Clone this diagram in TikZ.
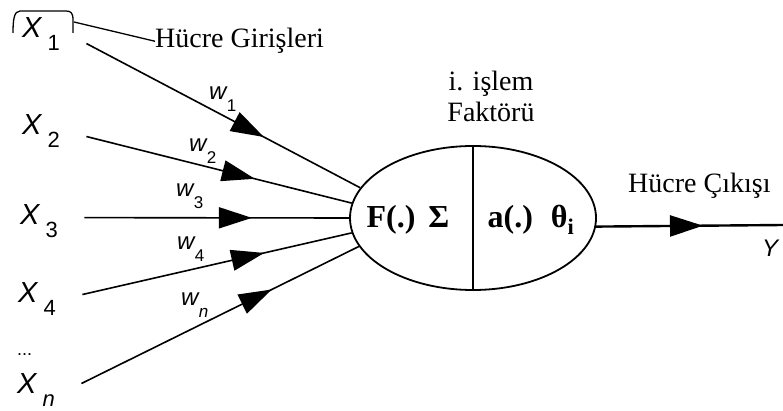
\documentclass[tikz,border=0pt]{standalone}
\usepackage{fontspec}
\setmainfont{Liberation Serif}
\setsansfont{Liberation Sans}
\usepackage{tikz}
\usetikzlibrary{positioning,arrows.meta,decorations.markings,shapes.geometric}

\newcommand{\xsub}[1]{{\fontsize{29}{29}\selectfont\itshape X}\hspace{6pt}\raisebox{-13pt}{#1}}
\newcommand{\wsub}[1]{\textit{w}\kern-1pt\raisebox{-12pt}{\fontsize{17}{17}\selectfont #1}}

\begin{document}
\begin{tikzpicture}[
  x=1pt, y=-1pt,
  inp/.style={anchor=base west, inner sep=0pt, text width=64pt, align=left,
              font=\sffamily\fontsize{22}{22}\selectfont},
  wlab/.style={anchor=base west, inner sep=0pt, font=\sffamily\fontsize{24}{24}\selectfont},
  txt/.style={inner sep=0pt, font=\fontsize{28}{31}\selectfont},
  inside/.style={anchor=base, inner sep=0pt, font=\bfseries\fontsize{32}{32}\selectfont},
  flow/.style={line width=1.6pt, postaction={decorate},
               decoration={markings, mark=at position #1 with
                 {\arrow{Triangle[length=33pt,width=21pt]}}}}
]
  \useasboundingbox (0,0) rectangle (783,411);

  % Nodes
  \node[inp] (x1) at (22,38) {\xsub{1}};
  \node[inp] (x2) at (22,135) {\xsub{2}};
  \node[inp] (x3) at (20,225) {\xsub{3}};
  \node[inp] (x4) at (18,302) {\xsub{4}};
  \node[wlab, font=\sffamily\fontsize{18}{18}\selectfont] (dots) at (17,355) {...};
  \node[inp] (xn) at (17,393) {\xsub{\textit{n}}};

  \node[wlab] (w1) at (209,100) {\wsub{1}};
  \node[wlab] (w2) at (189,152) {\wsub{2}};
  \node[wlab] (w3) at (176,197) {\wsub{3}};
  \node[wlab] (w4) at (177,250) {\wsub{4}};
  \node[wlab] (wn) at (181,305) {\wsub{\textit{n}}};

  \node[txt, anchor=base west] (hgir) at (155,48) {Hücre Girişleri};
  \node[txt, anchor=south, align=center] (fakt) at (491,122) {i. işlem\\Faktörü};
  \node[txt, anchor=base west] (hcik) at (628,193) {Hücre Çıkışı};
  \node[wlab] (yout) at (762,257) {\textit{Y}};

  \node[draw, ellipse, line width=1.8pt, minimum width=246pt, minimum height=144pt,
        inner sep=0pt] (cell) at (473,218) {};
  \draw[line width=1.8pt] (cell.north) -- (cell.south);
  \node[inside] (fsum) at (408,228) {F(.)\hspace{13pt}Σ};
  \node[inside] (aact) at (531,228) {a(.)\hspace{18pt}θ\textsubscript{i}};

  % Bracket
  \draw[line width=1.3pt] (13,33) .. controls (13,20) and (14,11) .. (20,11) -- (66,11)
    .. controls (71,11) and (73,13) .. (73,20) -- (73,33);
  \coordinate (brk) at (74,22);
  \coordinate (yend) at (783,225);

  % Arrows
  \draw[line width=1.3pt] (brk) -- (hgir.west);
  \draw[flow=0.648] ([yshift=-9pt]x1.east) -- (cell.165.5);
  \draw[flow=0.635] ([yshift=-5pt]x2.east) -- (cell.173.4);
  \draw[flow=0.633] ([yshift=4pt]x3.east) -- (cell.180);
  \draw[flow=0.675] ([yshift=4pt]x4.east) -- (cell.187.1);
  \draw[flow=0.686] ([yshift=6pt]xn.east) -- (cell.194.4);
  \draw[flow=0.572, line width=2.4pt] (cell.356.7) -- (yend);
\end{tikzpicture}
\end{document}
